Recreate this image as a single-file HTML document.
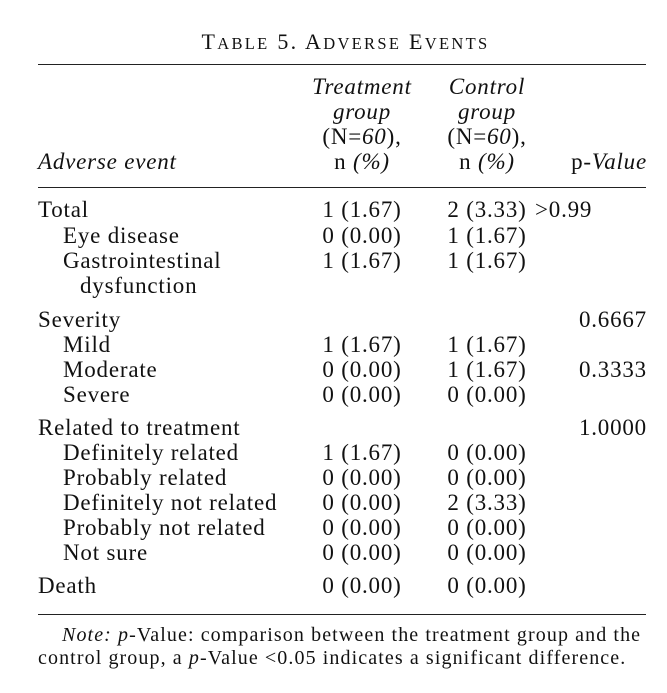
<!DOCTYPE html>
<html><head><meta charset="utf-8"><style>
body{margin:0;background:#fff;}
#c{position:relative;width:667px;height:693px;background:#fff;font-family:"Liberation Serif",serif;color:#111;font-size:23px;letter-spacing:0.8px;}
.t{position:absolute;white-space:nowrap;line-height:26px;}
.r{position:absolute;left:38px;width:608px;height:1px;background:#222;}
.cT{left:302px;width:120px;text-align:center;}
.cC{left:427px;width:120px;text-align:center;}
.cP{right:20px;text-align:right;}
i{font-style:italic;}
</style></head><body><div id="c">
<div class="t" style="left:12px;width:667px;text-align:center;top:29px;font-size:22px;letter-spacing:2.3px">T<span style="font-size:16.5px">ABLE</span> 5. A<span style="font-size:16.5px">DVERSE</span> E<span style="font-size:16.5px">VENTS</span></div>
<div class="r" style="top:64px"></div>
<div class="t cT" style="top:74px"><i>Treatment</i></div>
<div class="t cT" style="top:99px"><i>group</i></div>
<div class="t cT" style="top:124px">(N=<i>60</i>),</div>
<div class="t cT" style="top:149px">n <i>(%)</i></div>
<div class="t cC" style="top:74px"><i>Control</i></div>
<div class="t cC" style="top:99px"><i>group</i></div>
<div class="t cC" style="top:124px">(N=<i>60</i>),</div>
<div class="t cC" style="top:149px">n <i>(%)</i></div>
<div class="t" style="left:38px;top:149px"><i>Adverse event</i></div>
<div class="t cP" style="top:149px">p-<i>Value</i></div>
<div class="r" style="top:187px"></div>

<div class="t" style="left:38px;top:197px">Total</div><div class="t cT" style="top:197px">1 (1.67)</div><div class="t cC" style="top:197px">2 (3.33)</div><div class="t" style="left:535px;top:197px">&gt;0.99</div>
<div class="t" style="left:63px;top:223px">Eye disease</div><div class="t cT" style="top:223px">0 (0.00)</div><div class="t cC" style="top:223px">1 (1.67)</div>
<div class="t" style="left:63px;top:248px">Gastrointestinal</div><div class="t cT" style="top:248px">1 (1.67)</div><div class="t cC" style="top:248px">1 (1.67)</div>
<div class="t" style="left:80px;top:273px">dysfunction</div>

<div class="t" style="left:38px;top:307px">Severity</div><div class="t cP" style="top:307px">0.6667</div>
<div class="t" style="left:63px;top:332px">Mild</div><div class="t cT" style="top:332px">1 (1.67)</div><div class="t cC" style="top:332px">1 (1.67)</div>
<div class="t" style="left:63px;top:357px">Moderate</div><div class="t cT" style="top:357px">0 (0.00)</div><div class="t cC" style="top:357px">1 (1.67)</div><div class="t cP" style="top:357px">0.3333</div>
<div class="t" style="left:63px;top:382px">Severe</div><div class="t cT" style="top:382px">0 (0.00)</div><div class="t cC" style="top:382px">0 (0.00)</div>

<div class="t" style="left:38px;top:415px">Related to treatment</div><div class="t cP" style="top:415px">1.0000</div>
<div class="t" style="left:63px;top:440px">Definitely related</div><div class="t cT" style="top:440px">1 (1.67)</div><div class="t cC" style="top:440px">0 (0.00)</div>
<div class="t" style="left:63px;top:465px">Probably related</div><div class="t cT" style="top:465px">0 (0.00)</div><div class="t cC" style="top:465px">0 (0.00)</div>
<div class="t" style="left:63px;top:490px">Definitely not related</div><div class="t cT" style="top:490px">0 (0.00)</div><div class="t cC" style="top:490px">2 (3.33)</div>
<div class="t" style="left:63px;top:515px">Probably not related</div><div class="t cT" style="top:515px">0 (0.00)</div><div class="t cC" style="top:515px">0 (0.00)</div>
<div class="t" style="left:63px;top:540px">Not sure</div><div class="t cT" style="top:540px">0 (0.00)</div><div class="t cC" style="top:540px">0 (0.00)</div>
<div class="t" style="left:38px;top:573px">Death</div><div class="t cT" style="top:573px">0 (0.00)</div><div class="t cC" style="top:573px">0 (0.00)</div>
<div class="r" style="top:614px"></div>
<div class="t" style="left:62px;top:622px;font-size:20px;letter-spacing:1.1px"><i>Note: p</i>-Value: comparison between the treatment group and the</div>
<div class="t" style="left:38px;top:645px;font-size:20px;letter-spacing:1.1px">control group, a <i>p</i>-Value &lt;0.05 indicates a significant difference.</div>
</div></body></html>
